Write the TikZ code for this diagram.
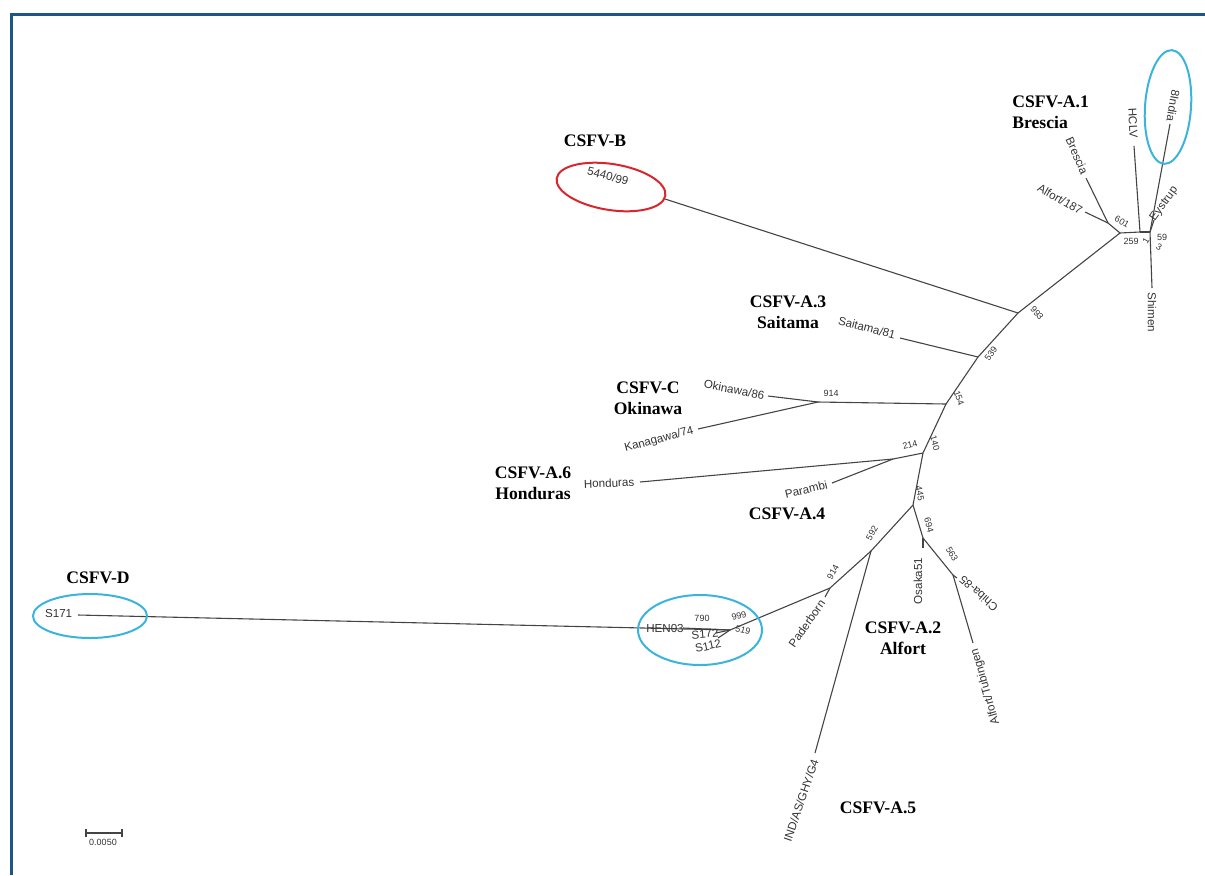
\documentclass[tikz,border=0pt]{standalone}
\usepackage{fontspec}
\setmainfont{Liberation Serif}
\newfontfamily\leaffont{Liberation Sans}
\definecolor{framec}{HTML}{1C5687}
\definecolor{cyanc}{HTML}{3AB4DC}
\definecolor{redc}{HTML}{D9262C}
\definecolor{linec}{HTML}{444444}
\definecolor{textc}{HTML}{333333}
\begin{document}
\begin{tikzpicture}[x=0.5pt,y=-0.5pt,
  edge/.style={draw=linec, line width=0.55pt},
  leaf/.style={font=\leaffont\fontsize{5.8}{6.5}\selectfont, text=textc, inner sep=1.2pt},
  boot/.style={font=\leaffont\fontsize{4.5}{5}\selectfont, text=textc, inner sep=0.3pt},
  clade/.style={font=\bfseries\fontsize{8.8}{10.5}\selectfont, align=center, inner sep=0pt},
  ring/.style={line width=1pt},
]
\useasboundingbox (0,0) rectangle (1205,875);
% frame
\draw[framec, line width=1.5pt] (11,875) -- (11,14) -- (1205,14);

% tree coordinates
\coordinate (R) at (1120,233);
\coordinate (nB) at (1108,223);
\coordinate (tBres) at (1086,178);
\coordinate (tAlf187) at (1085,212);
\coordinate (nH) at (1140,232);
\coordinate (tHCLV) at (1134,146);
\coordinate (nC) at (1150,232);
\coordinate (t8I) at (1170,124);
\coordinate (tEys) at (1154,220);
\coordinate (tShi) at (1152,288);
\coordinate (n993) at (1018,313);
\coordinate (t5440) at (665,199);
\coordinate (n539) at (978,357);
\coordinate (tSai) at (900,338);
\coordinate (n154) at (946,404);
\coordinate (nOk) at (818,402);
\coordinate (tOki) at (768,396);
\coordinate (tKan) at (698,429);
\coordinate (n140) at (923,453);
\coordinate (n214) at (893,459);
\coordinate (tHon) at (640,482);
\coordinate (tPar) at (832,483);
\coordinate (n445) at (913,505);
\coordinate (n694) at (923,538);
\coordinate (tOsa) at (923,548);
\coordinate (n563) at (953,575);
\coordinate (tChi) at (957,578);
\coordinate (tAlfT) at (973,643);
\coordinate (n592) at (871,551);
\coordinate (tIND) at (815,753);
\coordinate (n914) at (830,588);
\coordinate (tPad) at (825,597);
\coordinate (nD) at (730,630);
\coordinate (tS171) at (78,615);
\coordinate (tHEN) at (683,628);
\coordinate (tS172) at (716,633);
\coordinate (tS112) at (718,638);

% backbone
\draw[edge] (R) -- (n993);
\draw[edge] (n993) -- (n539);
\draw[edge] (n539) -- (n154);
\draw[edge] (n154) -- (n140);
\draw[edge] (n140) -- (n445);
\draw[edge] (n445) -- (n592);
\draw[edge] (n592) -- (n914);
\draw[edge] (n914) -- (nD);
% A.1 cluster
\draw[edge] (R) -- (nB);
\draw[edge] (nB) -- (tBres);
\draw[edge] (nB) -- (tAlf187);
\draw[edge] (R) -- (nH);
\draw[edge] (nH) -- (tHCLV);
\draw[edge] (nH) -- (nC);
\draw[edge] (nC) -- (t8I);
\draw[edge] (nC) -- (tEys);
\draw[edge] (nC) -- (tShi);
% others
\draw[edge] (n993) -- (t5440);
\draw[edge] (n539) -- (tSai);
\draw[edge] (n154) -- (nOk);
\draw[edge] (nOk) -- (tOki);
\draw[edge] (nOk) -- (tKan);
\draw[edge] (n140) -- (n214);
\draw[edge] (n214) -- (tHon);
\draw[edge] (n214) -- (tPar);
\draw[edge] (n445) -- (n694);
\draw[edge] (n694) -- (tOsa);
\draw[edge] (n694) -- (n563);
\draw[edge] (n563) -- (tChi);
\draw[edge] (n563) -- (tAlfT);
\draw[edge] (n592) -- (tIND);
\draw[edge] (n914) -- (tPad);
\draw[edge] (nD) -- (tS171);
\draw[edge] (nD) -- (tHEN);
\draw[edge] (nD) -- (tS172);
\draw[edge] (nD) -- (tS112);

% leaf labels
\node[leaf, anchor=east, rotate=-66] (lBres) at (1086,176) {Brescia};
\node[leaf, anchor=east, rotate=-30] (lAlf187) at (1084,213) {Alfort/187};
\node[leaf, anchor=east, rotate=-87] (lHCLV) at (1134,141) {HCLV};
\node[leaf, anchor=east, rotate=-100] (l8I) at (1170,124) {8India};
\node[leaf, anchor=west, rotate=54] (lEys) at (1151,222) {Eystrup};
\node[leaf, anchor=west, rotate=-90] (lShi) at (1152,290) {Shimen};
\node[leaf, rotate=-15] (l5440) at (608,176) {5440/99};
\node[leaf, anchor=east, rotate=-15] (lSai) at (898,336) {Saitama/81};
\node[leaf, anchor=east, rotate=-11] (lOki) at (767,396) {Okinawa/86};
\node[leaf, anchor=east, rotate=15] (lKan) at (696,430) {Kanagawa/74};
\node[leaf, anchor=east, rotate=2] (lHon) at (637,482) {Honduras};
\node[leaf, anchor=east, rotate=13] (lPar) at (830,484) {Parambi};
\node[leaf, anchor=east, rotate=90] (lOsa) at (918,555) {Osaka51};
\node[leaf, anchor=east, rotate=138] (lChi) at (959,576) {Chiba-85};
\node[leaf, anchor=east, rotate=106] (lAlfT) at (974,646) {Alfort/Tubingen};
\node[leaf, anchor=east, rotate=71] (lIND) at (816,757) {IND/AS/GHY/G4};
\node[leaf, anchor=east, rotate=55] (lPad) at (824,599) {Paderborn};
\node[leaf] (lHEN) at (665,628) {HEN03};
\node[leaf, rotate=5] (lS172) at (705,634) {S172};
\node[leaf, rotate=12] (lS112) at (708,646) {S112};
\node[leaf, anchor=east] (lS171) at (75,613) {S171};

% bootstrap values
\node[boot, rotate=-30] (b601) at (1122,222) {601};
\node[boot] (b259) at (1131,241) {259};
\node[boot, rotate=60] (b1) at (1146,241) {1};
\node[boot] (b59) at (1162,237) {59};
\node[boot, rotate=-30] (b3) at (1159,247) {3};
\node[boot, rotate=-50] (b993) at (1037,313) {993};
\node[boot, rotate=55] (b539) at (991,354) {539};
\node[boot, rotate=-70] (b154) at (959,398) {154};
\node[boot, rotate=-75] (b140) at (935,443) {140};
\node[boot, rotate=15] (b214) at (910,445) {214};
\node[boot] (b914a) at (831,393) {914};
\node[boot, rotate=-80] (b445) at (920,493) {445};
\node[boot, rotate=-75] (b694) at (929,525) {694};
\node[boot, rotate=-60] (b563) at (952,554) {563};
\node[boot, rotate=60] (b592) at (872,533) {592};
\node[boot, rotate=60] (b914b) at (833,572) {914};
\node[boot] (b790) at (702,618) {790};
\node[boot, rotate=15] (b999) at (739,616) {999};
\node[boot, rotate=-15] (b519) at (743,630) {519};

% rings
\draw[ring, redc, rotate around={-9:(611,187)}] (611,187) ellipse [x radius=55, y radius=23];
\draw[ring, cyanc, rotate around={-4:(1168,107)}] (1168,107) ellipse [x radius=23, y radius=57];
\draw[ring, cyanc] (90,616) ellipse [x radius=57, y radius=22];
\draw[ring, cyanc] (700,630) ellipse [x radius=62, y radius=35];

% clade labels
\node[clade, align=left, anchor=west] (cA1) at (1012,112) {CSFV-A.1\\Brescia};
\node[clade] (cB) at (595,141) {CSFV-B};
\node[clade] (cA3) at (788,312) {CSFV-A.3\\Saitama};
\node[clade] (cC) at (648,398) {CSFV-C\\Okinawa};
\node[clade] (cA6) at (533,483) {CSFV-A.6\\Honduras};
\node[clade] (cA4) at (787,514) {CSFV-A.4};
\node[clade] (cD) at (98,578) {CSFV-D};
\node[clade] (cA2) at (903,638) {CSFV-A.2\\Alfort};
\node[clade] (cA5) at (878,808) {CSFV-A.5};

% scale bar
\coordinate (sb1) at (86,833);
\coordinate (sb2) at (122,833);
\draw[edge] (sb1) -- (sb2);
\draw[edge] ([yshift=-2pt]sb1) -- ([yshift=2pt]sb1);
\draw[edge] ([yshift=-2pt]sb2) -- ([yshift=2pt]sb2);
\node[boot] (sbl) at (103,842) {0.0050};
\end{tikzpicture}
\end{document}
